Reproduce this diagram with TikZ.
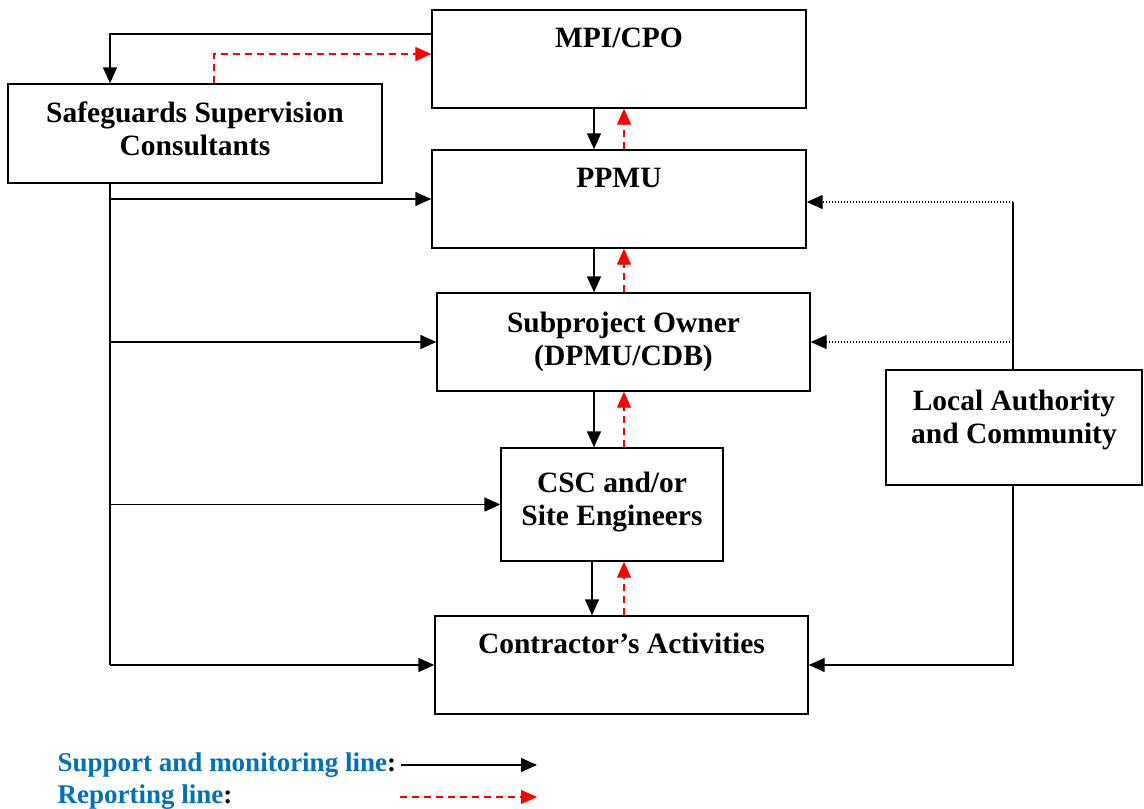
\documentclass[tikz,border=0pt]{standalone}
\usepackage{fontspec}
\setmainfont{Liberation Serif}
\usetikzlibrary{arrows.meta}
\definecolor{legendblue}{RGB}{0,112,192}
\begin{document}
\begin{tikzpicture}[x=1pt,y=-1pt,line width=1.4pt,
  box/.style={draw,line width=1.4pt,inner sep=0pt,align=center,font=\fontsize{29.5}{33}\selectfont\bfseries},
  sup/.style={-{Triangle[length=16pt,width=14pt]}},
  rep/.style={red,line width=1.2pt,dash pattern=on 7pt off 5pt,-{Triangle[length=16pt,width=14pt]}},
  obs/.style={line width=1.2pt,dash pattern=on 1.5pt off 1.5pt,-{Triangle[length=16pt,width=14pt]}}]
\useasboundingbox (0,0) rectangle (1144,809);
\node[box,minimum width=374,minimum height=98] (mpi) at (619,59) {MPI/CPO\\\strut};
\node[box,minimum width=374,minimum height=99] (sgc) at (195,133.5) {Safeguards Supervision\\Consultants\\[-23pt]};
\node[box,minimum width=374,minimum height=98] (ppmu) at (619,199) {PPMU\\\strut};
\node[box,minimum width=373,minimum height=98] (spo) at (623.5,342) {Subproject Owner\\(DPMU/CDB)\\[-27pt]};
\node[box,minimum width=222,minimum height=113] (csc) at (612,504.5) {CSC and/or\\Site Engineers\\[-21pt]};
\node[box,minimum width=373,minimum height=98] (con) at (621.5,665) {Contractor’s Activities\\\strut};
\node[box,minimum width=256,minimum height=115] (lac) at (1014,427.5) {Local Authority\\and Community\\[-12pt]};
% chain down the middle
\draw[sup] ([xshift=-25pt]mpi.south) -- ([xshift=-25pt]mpi.south |- ppmu.north);
\draw[rep] ([xshift=5pt]mpi.south |- ppmu.north) -- ([xshift=5pt]mpi.south);
\draw[sup] ([xshift=-25pt]ppmu.south) -- ([xshift=-25pt]ppmu.south |- spo.north);
\draw[rep] ([xshift=5pt]ppmu.south |- spo.north) -- ([xshift=5pt]ppmu.south);
\draw[sup] ([xshift=-25pt]ppmu.south |- spo.south) -- ([xshift=-25pt]ppmu.south |- csc.north);
\draw[rep] ([xshift=5pt]ppmu.south |- csc.north) -- ([xshift=5pt]ppmu.south |- spo.south);
\draw[sup] ([xshift=-27pt]ppmu.south |- csc.south) -- ([xshift=-27pt]ppmu.south |- con.north);
\draw[rep] ([xshift=5pt]ppmu.south |- con.north) -- ([xshift=5pt]ppmu.south |- csc.south);
% safeguards consultants
\coordinate (bus) at (110,183);
\coordinate (bustop) at (110,34);
\draw[sup] ([yshift=25pt]mpi.west) -- (bustop) -- (bustop |- sgc.north);
\draw[rep] ([xshift=19pt]sgc.north) |- ([yshift=5pt]mpi.west);
\draw (bus) -- (bus |- con.west);
\draw[sup] (bus |- ppmu.west) -- (ppmu.west);
\draw[sup] (bus |- spo.west) -- (spo.west);
\draw[sup] (bus |- csc.west) -- (csc.west);
\draw[sup] (bus |- con.west) -- (con.west);
% local authority
\coordinate (rail) at (1013,202);
\draw (rail) -- (rail |- lac.north);
\draw[obs] (rail) -- ([yshift=-3pt]ppmu.east);
\draw[obs] (rail |- spo.east) -- (spo.east);
\draw[sup] ([xshift=-1pt]lac.south) |- (con.east);
% legend
\node[anchor=west,inner sep=0pt,text=legendblue,font=\fontsize{27}{30}\selectfont\bfseries] (suplbl) at (57,765) {Support and monitoring line\textcolor{black}{:}};
\node[anchor=west,inner sep=0pt,text=legendblue,font=\fontsize{27}{30}\selectfont\bfseries] (replbl) at (57,797) {Reporting line\textcolor{black}{:}};
\coordinate (supend) at (537,765);
\coordinate (repbeg) at (400,797);
\coordinate (repend) at (537,797);
\draw[sup] ([xshift=4pt]suplbl.east) -- (supend);
\draw[rep] (repbeg) -- (repend);
\end{tikzpicture}
\end{document}
